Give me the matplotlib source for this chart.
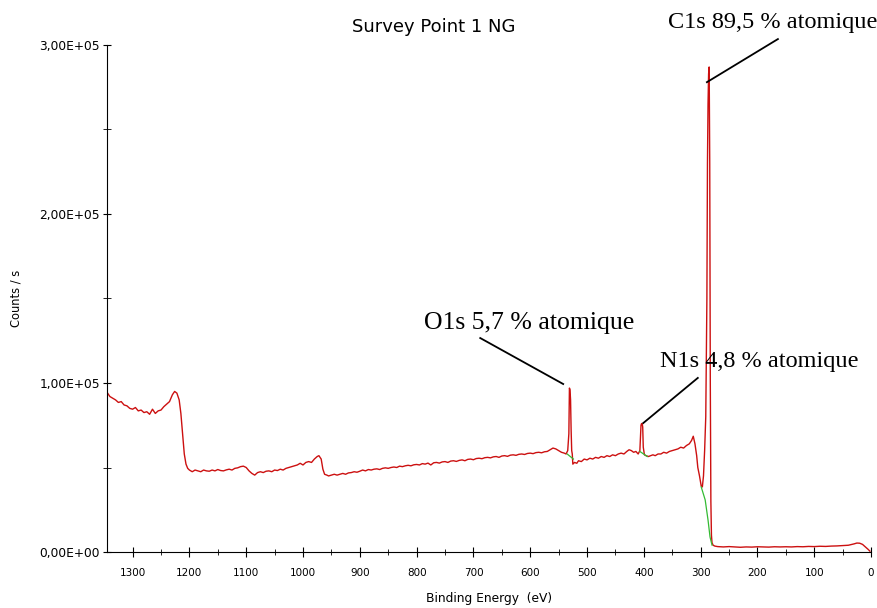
import matplotlib
matplotlib.use("Agg")
import matplotlib.pyplot as plt
import matplotlib.ticker as mtick

# binding energy (eV) / counts per second
energy = [1345, 1340, 1335, 1330, 1325, 1320, 1315, 1310, 1305, 1300,
          1295, 1290, 1285, 1280, 1275, 1270, 1265, 1260, 1255, 1250,
          1245, 1240, 1235, 1230, 1226, 1222, 1218, 1215, 1212, 1209,
          1206, 1203, 1200, 1195, 1190, 1185, 1180, 1175, 1170, 1165,
          1160, 1155, 1150, 1145, 1140, 1135, 1130, 1125, 1120, 1115,
          1110, 1105, 1100, 1095, 1090, 1085, 1080, 1075, 1070, 1065,
          1060, 1055, 1050, 1045, 1040, 1035, 1030, 1025, 1020, 1015,
          1010, 1005, 1000, 995, 990, 985, 980, 975, 972, 968,
          965, 962, 958, 955, 950, 945, 940, 935, 930, 925,
          920, 915, 910, 905, 900, 895, 890, 885, 880, 875,
          870, 865, 860, 855, 850, 845, 840, 835, 830, 825,
          820, 815, 810, 805, 800, 795, 790, 785, 780, 775,
          770, 765, 760, 755, 750, 745, 740, 735, 730, 725,
          720, 715, 710, 705, 700, 695, 690, 685, 680, 675,
          670, 665, 660, 655, 650, 645, 640, 635, 630, 625,
          620, 615, 610, 605, 600, 595, 590, 585, 580, 575,
          570, 565, 560, 555, 550, 545, 540, 537, 534, 532,
          531, 530, 529, 528, 527, 526, 525, 522, 518, 515,
          510, 505, 500, 495, 490, 485, 480, 475, 470, 465,
          460, 455, 450, 445, 440, 435, 430, 426, 422, 418,
          414, 410, 407, 405, 404, 403, 402, 401, 399, 396,
          392, 388, 384, 380, 375, 370, 365, 360, 355, 350,
          345, 340, 335, 330, 325, 320, 316, 313, 310, 307,
          305, 302, 299, 297, 295, 293, 291, 289, 288, 287,
          286, 285, 284, 283, 282, 281, 280, 278, 275, 270,
          260, 250, 240, 230, 220, 210, 200, 190, 180, 170,
          160, 150, 140, 130, 120, 110, 100, 90, 80, 70,
          60, 50, 40, 30, 25, 20, 15, 10, 5, 2]
counts = [94500, 92000, 91000, 90000, 88500, 89000, 87000, 86500, 85000, 84500,
          85500, 83500, 84000, 82500, 83000, 81500, 84500, 82000, 83500, 84000,
          86000, 87500, 89000, 93000, 95000, 94000, 90000, 82000, 70000, 58000,
          52000, 49500, 48500, 47500, 48500, 48000, 47500, 48500, 48000, 47800,
          48500, 48000, 48800, 48200, 48000, 48600, 49000, 48500, 49500, 49800,
          50500, 50800, 50000, 48000, 46500, 45500, 47000, 47500, 47000, 47800,
          48000, 47500, 48500, 48200, 49000, 48500, 49500, 50000, 50500, 51000,
          51500, 52500, 51500, 53000, 53500, 53000, 55000, 56500, 57000, 55000,
          49000, 46000, 45500, 45000, 45500, 46000, 45500, 46000, 46500, 46000,
          46800, 47000, 47500, 47200, 47800, 48500, 48000, 48800, 48500, 49000,
          49200, 48800, 49500, 49800, 49500, 50000, 50300, 50000, 50800, 50500,
          51000, 51300, 51000, 51600, 51800, 51500, 52300, 52000, 52600, 51500,
          52800, 53000, 52600, 53300, 53500, 53000, 53800, 54000, 53600, 54200,
          54500, 54000, 54800, 55000, 54600, 55300, 55500, 55200, 55800, 56000,
          55700, 56300, 56500, 56000, 56800, 57000, 56600, 57300, 57500, 57200,
          57800, 58000, 57700, 58300, 58500, 58200, 58800, 59000, 58700, 59300,
          59500, 60500, 61500, 61000, 60000, 59000, 58500, 58000, 60000, 70000,
          97000, 96000, 90000, 72000, 60000, 58000, 52000, 53000, 52500, 54000,
          53500, 55000, 54500, 55500, 55000, 56000, 55500, 56500, 56000, 57000,
          56500, 57500, 57000, 58000, 58500, 58000, 59500, 60500, 60000, 59000,
          59500, 58000, 60000, 75000, 76000, 76000, 74000, 62000, 57500, 57000,
          56500, 57000, 57500, 57000, 58000, 58000, 59000, 58500, 59500, 60000,
          60500, 61000, 62000, 61500, 63000, 64000, 66000, 68500, 64000, 57000,
          50000, 45000, 39000, 38500, 45000, 60000, 80000, 150000, 230000, 265000,
          283000, 287000, 230000, 100000, 30000, 10000, 5500, 4000, 3500, 3200,
          3000, 3200, 3000, 2800, 3000, 2900, 3100, 3000, 2900, 3100,
          3000, 3100, 3000, 3200, 3100, 3300, 3200, 3400, 3300, 3500,
          3600, 3800, 4000, 4800, 5300, 5200, 4500, 3000, 1500, 500]

# background lines under the peaks (green)
bg_o1s_x = [535, 524]
bg_o1s_y = [58000, 55000]
bg_n1s_x = [407, 394]
bg_n1s_y = [59500, 56500]
bg_c1s_x = [299, 292, 287, 283.5, 280]
bg_c1s_y = [38500, 30800, 18900, 8900, 4100]

peak_labels = ["C1s 89,5 % atomique", "O1s 5,7 % atomique", "N1s 4,8 % atomique"]
label_size = [17.5, 18.5, 17.5]
label_pos = [(357, 313600), (787, 135500), (371, 113000)]
leader_x = [(164, 289), (688, 542), (305, 401)]
leader_y = [(303500, 278000), (126600, 99400), (103000, 76300)]

fig = plt.figure(figsize=(8.78, 6.08), dpi=100)
ax = fig.add_axes([0.1219, 0.0921, 0.8702, 0.8339])

ax.plot(energy, counts, color="#cc1010", lw=1.0)
ax.plot(bg_o1s_x, bg_o1s_y, color="#33bb33", lw=0.9)
ax.plot(bg_n1s_x, bg_n1s_y, color="#33bb33", lw=0.9)
ax.plot(bg_c1s_x, bg_c1s_y, color="#33bb33", lw=0.9)

for txt, fs, (tx, ty), lx, ly in zip(peak_labels, label_size, label_pos,
                                     leader_x, leader_y):
    ax.plot(lx, ly, color="black", lw=1.3, clip_on=False)
    ax.text(tx, ty, txt, family="Liberation Serif", fontsize=fs,
            ha="left", va="center", clip_on=False)

ax.set_xlim(1345, 0)
ax.set_ylim(0, 300000)

ax.xaxis.set_major_locator(mtick.MultipleLocator(100))
ax.xaxis.set_minor_locator(mtick.MultipleLocator(50))
ax.yaxis.set_major_locator(mtick.MultipleLocator(100000))
ax.yaxis.set_minor_locator(mtick.MultipleLocator(50000))
ax.yaxis.set_major_formatter(mtick.FuncFormatter(
    lambda v, p: ("%.2E" % v).replace(".", ",")))

ax.spines["top"].set_visible(False)
ax.spines["right"].set_visible(False)
ax.tick_params(which="both", direction="inout")
ax.tick_params(axis="x", which="major", length=7, pad=8, labelsize=7.5)
ax.tick_params(axis="x", which="minor", length=5)
ax.tick_params(axis="y", which="major", length=6, pad=2, labelsize=8.8)
ax.tick_params(axis="y", which="minor", length=6)

fig.text(434 / 878, 1 - 27 / 608, "Survey Point 1 NG", fontsize=13,
         ha="center", va="center")
ax.set_xlabel("Binding Energy  (eV)", fontsize=8.8, labelpad=10)
ax.set_ylabel("Counts / s", fontsize=8.3, labelpad=12)

fig.savefig("out.png", dpi=100)
